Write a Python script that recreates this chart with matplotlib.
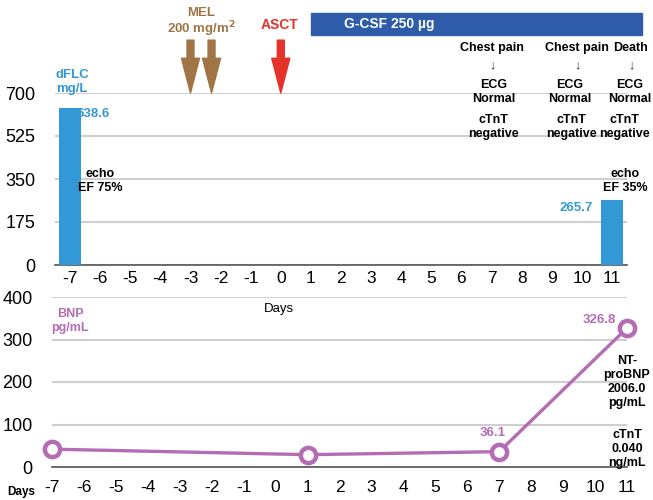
import matplotlib.pyplot as plt
import numpy as np

plt.rcParams['font.family'] = ['Liberation Sans', 'DejaVu Sans']
plt.rcParams['axes.unicode_minus'] = False

# data
days = list(range(-7, 12))
flc_days = [-7, 11]
flc_values = [638.6, 265.7]
bnp_days = [-7, 1, 7, 11]
bnp_values = [42, 29, 36.1, 326.8]
flc_ticks = [0, 175, 350, 525, 700]
bnp_ticks = [0, 100, 200, 300, 400]
mel_days = [-3, -2.3]
asct_day = 0
gcsf_start, gcsf_end = 1, 12

BLUE = '#3399d6'
PURPLE = '#b46cb4'
BROWN = '#a07444'
RED = '#e5322a'
NAVY = '#2e5ca8'
GRID = '#cfcfcf'

W, H = 653, 500
fig = plt.figure(figsize=(W / 100, H / 100), dpi=100)


def px(x, y):
    return x / W, 1 - y / H


# top panel - dFLC bars
ax1 = fig.add_axes([55 / W, 1 - 265 / H, 572 / W, 172 / H])
ax1.bar(flc_days, flc_values, width=0.72, color=BLUE, zorder=3)
ax1.set_xlim(-7.5, 11.5)
ax1.set_ylim(0, 700)
ax1.set_yticks(flc_ticks)
ax1.set_xticks(days)
ax1.set_xticklabels([str(d) for d in days])
ax1.grid(axis='y', color=GRID, lw=1.5, zorder=0)
for s in ['top', 'left', 'right']:
    ax1.spines[s].set_visible(False)
ax1.spines['bottom'].set_color('#555555')
ax1.spines['bottom'].set_linewidth(1.2)
ax1.tick_params(length=0, labelsize=12.5)
ax1.tick_params(axis='y', pad=14, labelsize=13)
ax1.tick_params(axis='x', pad=4)

ax1.text(flc_days[0] + 0.22, flc_values[0], f'{flc_values[0]}', color=BLUE,
         fontweight='bold', fontsize=9.5, ha='left', va='top', zorder=2)
ax1.text(flc_days[1] - 0.62, flc_values[1] - 10, f'{flc_values[1]}', color=BLUE,
         fontweight='bold', fontsize=9.5, ha='right', va='top')

# arrows for MEL and ASCT
arrow_kw = dict(width=5, headwidth=13, headlength=25, shrink=0)
for d in mel_days:
    ax1.annotate('', xy=(d, 700), xytext=(d, 915), annotation_clip=False,
                 arrowprops=dict(color=BROWN, **arrow_kw))
ax1.annotate('', xy=(asct_day, 700), xytext=(asct_day, 915), annotation_clip=False,
             arrowprops=dict(color=RED, **arrow_kw))

# G-CSF bar
ax1.add_patch(plt.Rectangle((gcsf_start, 936), gcsf_end - gcsf_start, 90,
                            color=NAVY, clip_on=False))

# bottom panel - BNP
ax2 = fig.add_axes([52 / W, 1 - 467 / H, 575 / W, 170 / H])
ax2.plot(bnp_days, bnp_values, color=PURPLE, lw=2.4, marker='o', ms=11,
         mfc='white', mec=PURPLE, mew=3.2, clip_on=False, zorder=3)
ax2.set_xlim(-7, 11)
ax2.set_ylim(0, 400)
ax2.set_yticks(bnp_ticks)
ax2.set_xticks(days)
ax2.grid(axis='y', color=GRID, lw=1.5, zorder=0)
for s in ['top', 'left', 'right']:
    ax2.spines[s].set_visible(False)
ax2.spines['bottom'].set_color('#555555')
ax2.spines['bottom'].set_linewidth(1.2)
ax2.tick_params(length=0, labelsize=12.5)
ax2.tick_params(axis='y', pad=14, labelsize=13)
ax2.tick_params(axis='x', pad=9)

ax2.text(bnp_days[3] - 0.35, bnp_values[3] + 4, f'{bnp_values[3]}', color=PURPLE,
         fontweight='bold', fontsize=9.5, ha='right', va='bottom')
ax2.text(bnp_days[2] - 0.2, bnp_values[2] + 30, f'{bnp_values[2]}', color=PURPLE,
         fontweight='bold', fontsize=9.5, ha='center', va='bottom')

# annotations
bold = dict(fontweight='bold', fontsize=9, ha='center', va='center')
fig.text(*px(56, 82), 'dFLC\nmg/L', color=BLUE, fontweight='bold', fontsize=9.5,
         ha='left', va='center', linespacing=1.2)
fig.text(*px(201, 23), 'MEL\n200 mg/m$^\\mathbf{2}$', color=BROWN, fontweight='bold',
         fontsize=9.5, ha='center', va='center', linespacing=1.1)
fig.text(*px(279, 25), 'ASCT', color=RED, fontweight='bold', fontsize=10,
         ha='center', va='center')
fig.text(*px(389, 24), 'G-CSF 250 µg', color='white', fontweight='bold',
         fontsize=10, ha='center', va='center')

cols = [(492, 'Chest pain'), (577, 'Chest pain'), (631, 'Death')]
for x, head in cols:
    fig.text(*px(x, 48), head, color='black', **bold)
    fig.text(*px(x, 65), '↓', color='#333333', fontsize=9, ha='center', va='center')
for x in [494, 570, 630]:
    fig.text(*px(x, 92), 'ECG\nNormal', color='black', linespacing=1.15, **bold)
for x in [493, 571, 624]:
    fig.text(*px(x, 127), 'cTnT\nnegative', color='black', linespacing=1.15, **bold)

fig.text(*px(100, 181), 'echo\nEF 75%', color='black', linespacing=1.2, **bold)
fig.text(*px(625, 181), 'echo\nEF 35%', color='black', linespacing=1.2, **bold)
fig.text(*px(279, 309), 'Days', color='black', fontsize=9.5, ha='center', va='center')
fig.text(*px(70, 321), 'BNP\npg/mL', color=PURPLE, linespacing=1.2, **bold)
fig.text(*px(627, 382), 'NT-\nproBNP\n2006.0\npg/mL', color='black', linespacing=1.2,
         **bold)
fig.text(*px(627, 449), 'cTnT\n0.040\nng/mL', color='black', linespacing=1.2, **bold)
fig.text(*px(21, 492), 'Days', color='black', fontweight='bold', fontsize=8.5,
         ha='center', va='center')

fig.savefig('out.png', dpi=100)
